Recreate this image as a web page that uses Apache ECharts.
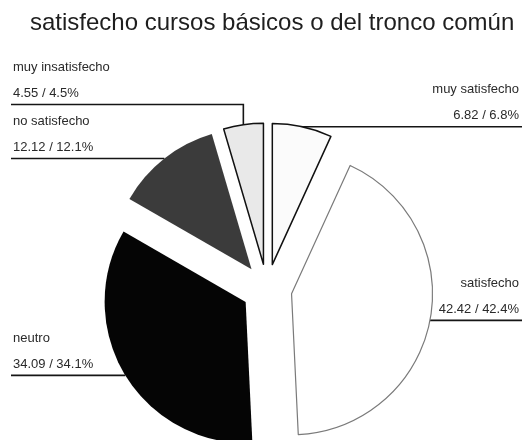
<!DOCTYPE html>
<html>
<head>
<meta charset="utf-8">
<script src="https://cdn.jsdelivr.net/npm/echarts@6/dist/echarts.min.js"></script>
<style>
  html, body { margin: 0; padding: 0; background: #ffffff; }
  #chart { width: 522px; height: 440px; }
</style>
</head>
<body>
<div id="chart"></div>
<script>
// Survey answers, in clockwise order starting at 12 o'clock
const categories = ['muy satisfecho', 'satisfecho', 'neutro', 'no satisfecho', 'muy insatisfecho'];
const values = [6.82, 42.42, 34.09, 12.12, 4.55];

// Slice fills and outlines
const sliceFill = ['#fbfbfb', '#ffffff', '#050505', '#3b3b3b', '#e9e9e9'];
const sliceBorder = ['#111111', '#7a7a7a', '#050505', '#3b3b3b', '#111111'];
const sliceBorderWidth = [1.5, 1.2, 0, 0, 1.5];

// Pie geometry
const CX = 267, CY = 289, R = 141, EXPLODE = 25;
const LEFT_EDGE = 11, RIGHT_EDGE = 522, TEXT_RIGHT = 519, TEXT_LEFT = 13;
const LABEL_GAP = 54;

const total = values.reduce((a, b) => a + b, 0);
let cum = 0;
const mids = values.map(v => {
  const m = (cum + v / 2) / total * Math.PI * 2;
  cum += v;
  return m;
});

// Each slice is pulled out along its bisector
const centers = mids.map(m => [CX + EXPLODE * Math.sin(m), CY - EXPLODE * Math.cos(m)]);
const anchors = mids.map((m, i) => [centers[i][0] + R * Math.sin(m), centers[i][1] - R * Math.cos(m)]);
const isLeft = mids.map(m => Math.sin(m) < 0);

// Horizontal leader height per label, stacked so text blocks don't collide
const lineY = anchors.map(a => a[1]);
[true, false].forEach(side => {
  const idx = values.map((v, i) => i).filter(i => isLeft[i] === side)
    .sort((a, b) => lineY[b] - lineY[a]);
  for (let k = 1; k < idx.length; k++) {
    const lower = lineY[idx[k - 1]];
    if (lineY[idx[k]] > lower - LABEL_GAP) lineY[idx[k]] = lower - LABEL_GAP;
  }
});

function labelText(i) {
  return '{n|' + categories[i] + '}\n{v|' + values[i].toFixed(2) + ' / ' +
    values[i].toFixed(1) + '%}';
}

const series = values.map((_, s) => ({
  type: 'pie',
  radius: R,
  center: centers[s],
  startAngle: 90,
  clockwise: true,
  avoidLabelOverlap: false,
  silent: true,
  animation: false,
  emphasis: { disabled: true },
  data: values.map((v, j) => ({
    name: categories[j],
    value: v,
    itemStyle: j === s
      ? { color: sliceFill[j], borderColor: sliceBorder[j], borderWidth: sliceBorderWidth[j] }
      : { color: 'rgba(0,0,0,0)', borderWidth: 0 },
    label: { show: j === s },
    labelLine: { show: j === s }
  })),
  label: {
    position: 'outer',
    formatter: p => labelText(p.dataIndex),
    fontFamily: 'Liberation Sans',
    color: '#2a2a2a',
    rich: {
      n: { fontSize: 13, lineHeight: 26, color: '#2a2a2a', fontFamily: 'Liberation Sans' },
      v: { fontSize: 13, lineHeight: 26, color: '#2a2a2a', fontFamily: 'Liberation Sans' }
    }
  },
  labelLine: {
    length: 0,
    length2: 0,
    smooth: false,
    lineStyle: { color: '#151515', width: 1.6 }
  },
  labelLayout: params => {
    const i = params.dataIndex;
    const a = anchors[i];
    const y = lineY[i];
    const left = isLeft[i];
    return {
      x: left ? TEXT_LEFT : TEXT_RIGHT,
      y: y + 2,
      align: left ? 'left' : 'right',
      verticalAlign: 'bottom',
      labelLinePoints: [[a[0], a[1]], [a[0], y], [left ? LEFT_EDGE : RIGHT_EDGE, y]]
    };
  }
}));

const chart = echarts.init(document.getElementById('chart'), null, { renderer: 'canvas' });
chart.setOption({
  backgroundColor: '#ffffff',
  animation: false,
  title: {
    text: 'satisfecho cursos básicos o del tronco común',
    left: 25,
    top: 6,
    textStyle: {
      fontFamily: 'Liberation Sans',
      fontSize: 24,
      fontWeight: 'normal',
      color: '#1e1e1e'
    }
  },
  series: series
});
</script>
</body>
</html>
